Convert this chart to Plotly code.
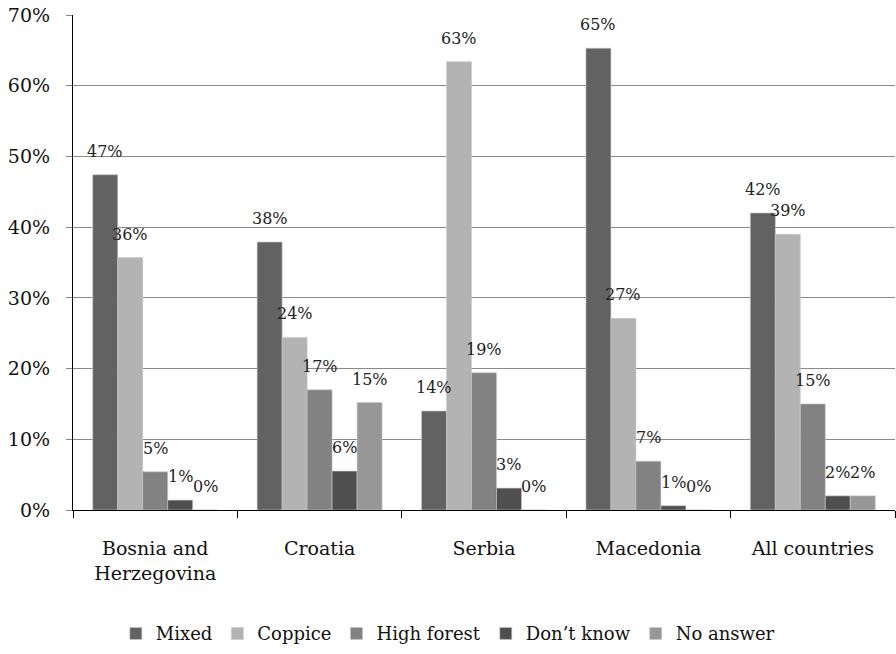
import plotly.graph_objects as go

categories = ["Bosnia and<br>Herzegovina", "Croatia", "Serbia", "Macedonia", "All countries"]
series_names = ["Mixed", "Coppice", "High forest", "Don\u2019t know", "No answer"]
mixed = [47.4, 37.9, 14.0, 65.3, 42.0]
coppice = [35.7, 24.4, 63.4, 27.1, 39.0]
high_forest = [5.4, 17.0, 19.4, 6.9, 15.0]
dont_know = [1.4, 5.5, 3.1, 0.6, 2.0]
no_answer = [0.0, 15.2, 0.0, 0.0, 2.0]
colors = ["#626262", "#b3b3b3", "#828282", "#4f4f4f", "#979797"]

FONT = "DejaVu Serif"
W, H = 896, 654
ML, MR, MT, MB = 73, 1, 15, 144
BARGAP = 0.24

series = [mixed, coppice, high_forest, dont_know, no_answer]

# pixel width of a single bar inside a group, used to place value labels
plot_w = W - ML - MR
bar_px = plot_w / len(categories) * (1 - BARGAP) / len(series)

fig = go.Figure()
annotations = []
for k, (name, vals, col) in enumerate(zip(series_names, series, colors)):
    fig.add_trace(go.Bar(
        name=name, x=categories, y=vals,
        marker=dict(color=col, line=dict(color="#c8c8c8", width=0.6)),
    ))
    offset = (k - (len(series) - 1) / 2) * bar_px
    for cat, v in zip(categories, vals):
        annotations.append(dict(
            x=cat, y=v, xref="x", yref="y", text=f"{round(v):.0f}%",
            showarrow=False, xanchor="center", yanchor="bottom",
            xshift=offset, yshift=12,
            font=dict(family=FONT, size=16, color="#222"),
        ))

fig.update_layout(
    width=W, height=H,
    margin=dict(l=ML, r=MR, t=MT, b=MB),
    paper_bgcolor="white", plot_bgcolor="white",
    barmode="group", bargap=BARGAP, bargroupgap=0,
    font=dict(family=FONT, color="#111"),
    annotations=annotations,
    legend=dict(orientation="h", x=0.456, xanchor="center", y=-0.25, yanchor="middle",
                font=dict(family=FONT, size=18), itemwidth=30,
                traceorder="normal"),
    xaxis=dict(showline=True, linecolor="black", linewidth=1.2,
               ticks="outside", tickson="boundaries", ticklen=7, tickcolor="black",
               tickfont=dict(family=FONT, size=19, color="#111"),
               ticklabelstandoff=21),
    yaxis=dict(range=[0, 70], dtick=10, ticksuffix="%",
               showline=True, linecolor="black", linewidth=1.2,
               ticks="outside", ticklen=6, tickcolor="#888",
               showgrid=True, gridcolor="#8a8a8a", gridwidth=1,
               zeroline=False, ticklabelstandoff=12,
               tickfont=dict(family=FONT, size=19, color="#111")),
)

fig.write_html("out.html")
